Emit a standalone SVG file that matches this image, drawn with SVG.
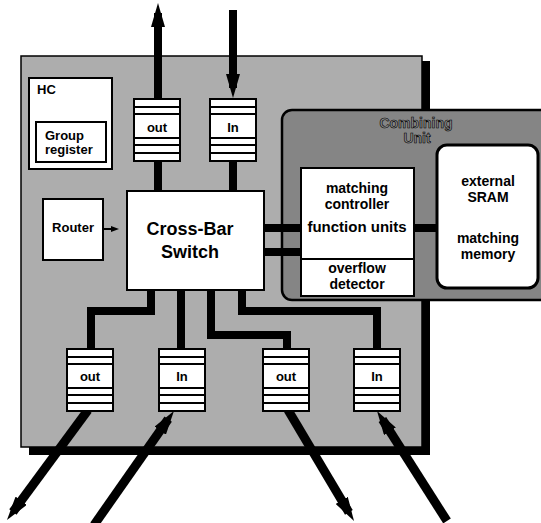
<svg xmlns="http://www.w3.org/2000/svg" xmlns:xlink="http://www.w3.org/1999/xlink" width="541" height="523" viewBox="0 0 541 523">
<style>
text{font-family:"Liberation Sans",Arial,Helvetica,sans-serif;font-weight:bold;fill:#000}
.box{fill:#fff;stroke:#000;stroke-width:2}
.bus{fill:none;stroke:#000;stroke-width:8;stroke-linejoin:miter}
.diag{fill:none;stroke:#000;stroke-width:9}
.stripe{stroke:#000;stroke-width:1.8}
.t13{font-size:13px}
.t14{font-size:14px}
.t15{font-size:15px}
.t18{font-size:18px}
.cu{font-size:14px;fill:#8a8a8a;stroke:#000;stroke-width:0.6}
</style>
<defs>
<marker id="bigArrow" markerUnits="userSpaceOnUse" viewBox="0 0 24 14" markerWidth="24" markerHeight="14" refX="14" refY="7" orient="auto">
<path d="M0,0 L24,7 L0,14 Z" fill="#000"/>
</marker>
<marker id="smallArrow" markerUnits="userSpaceOnUse" viewBox="0 0 8 6" markerWidth="8" markerHeight="6" refX="2" refY="3" orient="auto">
<path d="M0,0 L8,3 L0,6 Z" fill="#000"/>
</marker>
<g id="fifo">
<rect x="0" y="0" width="46" height="62" class="box"/>
<line x1="0" y1="8" x2="46" y2="8" class="stripe"/>
<line x1="0" y1="15" x2="46" y2="15" class="stripe"/>
<line x1="0" y1="39" x2="46" y2="39" class="stripe"/>
<line x1="0" y1="46" x2="46" y2="46" class="stripe"/>
<line x1="0" y1="54" x2="46" y2="54" class="stripe"/>
</g>
</defs>
<rect x="0" y="0" width="541" height="523" fill="#fff"/>

<g id="board">
<rect x="29" y="61" width="401" height="394" fill="#000"/>
<rect x="21" y="56" width="401" height="391" fill="#adadad" stroke="#000" stroke-width="1.5"/>
</g>

<g id="combining-unit">
<rect x="282" y="110" width="275" height="190" rx="10" fill="#858585" stroke="#000" stroke-width="2.5"/>
<text x="416" y="128" text-anchor="middle" class="cu">Combining</text>
<text x="417" y="143" text-anchor="middle" class="cu">Unit</text>
</g>

<g id="connectors">
<line x1="158" y1="99" x2="158" y2="13" class="bus" marker-end="url(#bigArrow)"/>
<line x1="233" y1="10" x2="233" y2="88" class="bus" marker-end="url(#bigArrow)"/>
<line x1="158" y1="162" x2="158" y2="192" class="bus"/>
<line x1="233" y1="162" x2="233" y2="192" class="bus"/>
<line x1="104" y1="229" x2="113" y2="229" stroke="#000" stroke-width="2" marker-end="url(#smallArrow)"/>
<line x1="264" y1="228" x2="302" y2="228" class="bus"/>
<line x1="264" y1="252" x2="302" y2="252" class="bus"/>
<line x1="414" y1="228" x2="438" y2="228" class="bus"/>
<polyline points="151,290 151,311 91,311 91,350" class="bus"/>
<polyline points="181,290 181,350" class="bus"/>
<polyline points="211,290 211,335 287,335 287,350" class="bus"/>
<polyline points="242,290 242,311 377,311 377,350" class="bus"/>
<line x1="88" y1="410" x2="12.9" y2="512" class="diag" marker-end="url(#bigArrow)"/>
<line x1="94" y1="525" x2="168.2" y2="419.2" class="diag" marker-end="url(#bigArrow)"/>
<line x1="288" y1="410" x2="348.9" y2="512.4" class="diag" marker-end="url(#bigArrow)"/>
<line x1="447" y1="521" x2="382.4" y2="419.5" class="diag" marker-end="url(#bigArrow)"/>
</g>

<g id="hc">
<rect x="29" y="78" width="83" height="91" class="box"/>
<text x="37" y="94" class="t13">HC</text>
</g>
<g id="group-register">
<rect x="36" y="122" width="70" height="40" class="box"/>
<text x="45" y="140" class="t13">Group</text>
<text x="45" y="154" class="t13">register</text>
</g>

<g id="out-top">
<use xlink:href="#fifo" x="134" y="99"/>
<text x="157" y="132" text-anchor="middle" class="t13">out</text>
</g>
<g id="in-top">
<use xlink:href="#fifo" x="210" y="99"/>
<text x="233" y="132" text-anchor="middle" class="t13">In</text>
</g>

<g id="router">
<rect x="43" y="199" width="60" height="61" class="box"/>
<text x="73" y="232" text-anchor="middle" class="t13">Router</text>
</g>

<g id="crossbar">
<rect x="127" y="191" width="137" height="99" class="box"/>
<text x="190" y="235" text-anchor="middle" class="t18">Cross-Bar</text>
<text x="190" y="258" text-anchor="middle" class="t18">Switch</text>
</g>

<g id="matching-controller">
<rect x="301" y="168" width="113" height="128" class="box"/>
<line x1="301" y1="259" x2="414" y2="259" stroke="#000" stroke-width="2"/>
<text x="357" y="193" text-anchor="middle" class="t14">matching</text>
<text x="357" y="209" text-anchor="middle" class="t14">controller</text>
<text x="357" y="232" text-anchor="middle" class="t15">function units</text>
<text x="357" y="273" text-anchor="middle" class="t14">overflow</text>
<text x="357" y="289" text-anchor="middle" class="t14">detector</text>
</g>

<g id="external-sram">
<rect x="437" y="145" width="101" height="143" rx="10" fill="#fff" stroke="#000" stroke-width="3"/>
<text x="488" y="186" text-anchor="middle" class="t14">external</text>
<text x="488" y="202" text-anchor="middle" class="t14">SRAM</text>
<text x="488" y="243" text-anchor="middle" class="t14">matching</text>
<text x="488" y="259" text-anchor="middle" class="t14">memory</text>
</g>

<g id="out-1">
<use xlink:href="#fifo" x="67" y="349"/>
<text x="90" y="381" text-anchor="middle" class="t13">out</text>
</g>
<g id="in-2">
<use xlink:href="#fifo" x="159" y="349"/>
<text x="182" y="381" text-anchor="middle" class="t13">In</text>
</g>
<g id="out-3">
<use xlink:href="#fifo" x="263" y="349"/>
<text x="286" y="381" text-anchor="middle" class="t13">out</text>
</g>
<g id="in-4">
<use xlink:href="#fifo" x="354" y="349"/>
<text x="377" y="381" text-anchor="middle" class="t13">In</text>
</g>
</svg>
